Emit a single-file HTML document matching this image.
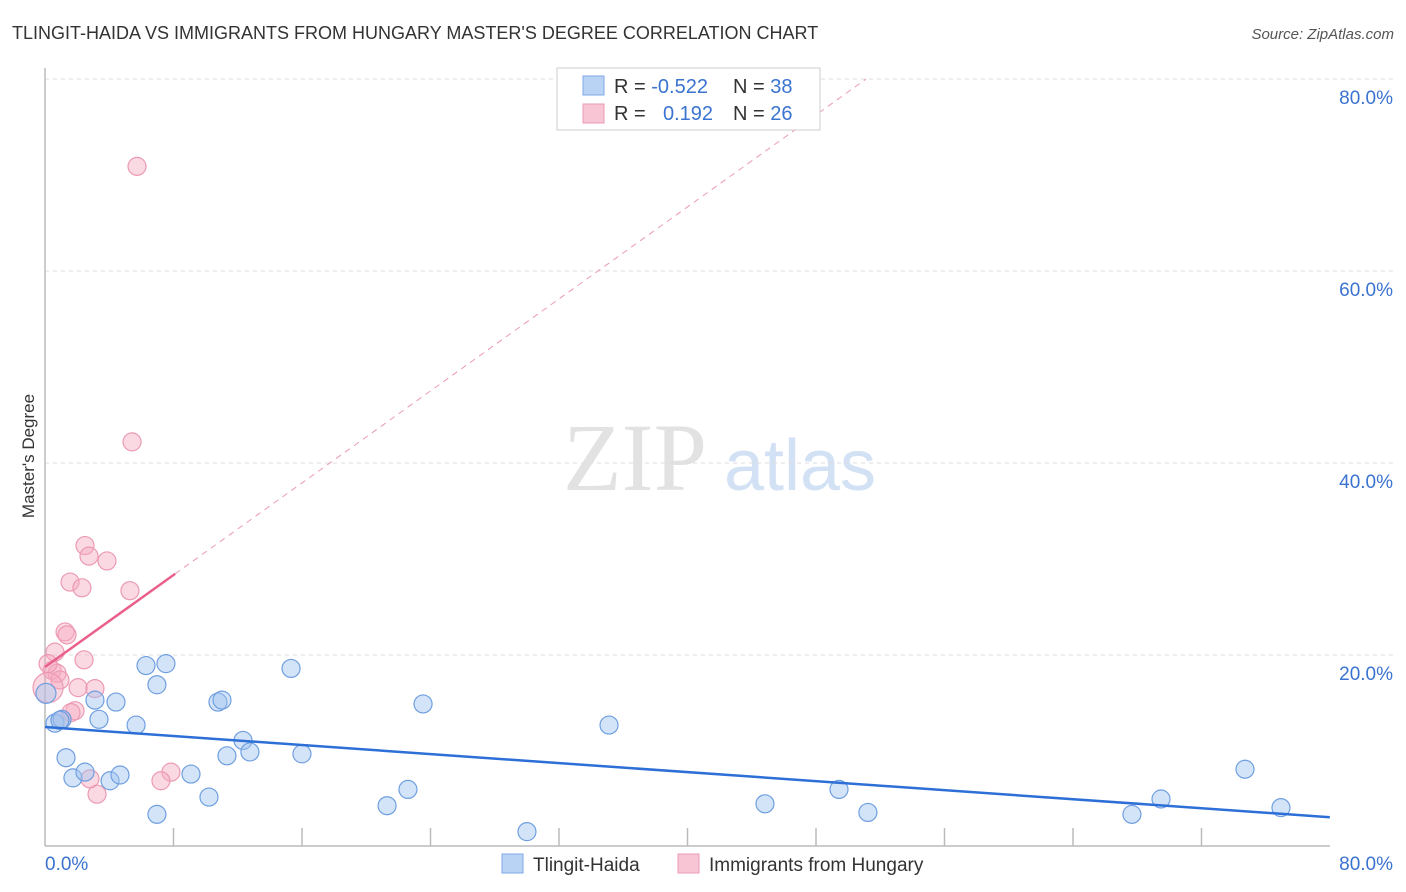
<!DOCTYPE html>
<html><head><meta charset="utf-8"><style>
body{margin:0;background:#fff;font-family:"Liberation Sans",sans-serif;}
svg{display:block}
</style></head><body>
<svg id="c" width="1406" height="892" xmlns="http://www.w3.org/2000/svg">
<text x="12" y="39" font-size="18" fill="#333">TLINGIT-HAIDA VS IMMIGRANTS FROM HUNGARY MASTER'S DEGREE CORRELATION CHART</text>
<text x="1394" y="39" font-size="15" fill="#555" font-style="italic" text-anchor="end">Source: ZipAtlas.com</text>
<text x="34" y="456" font-size="17" fill="#333" text-anchor="middle" transform="rotate(-90 34 456)">Master's Degree</text>
<g><text x="635" y="490" font-size="96" fill="#e2e2e2" text-anchor="middle" font-family="Liberation Serif,serif">ZIP</text><text x="800" y="490" font-size="72" fill="#d3e1f5" text-anchor="middle">atlas</text></g>
<g id="grid"></g><g id="marks"></g>
<g>
<rect x="557" y="68" width="263" height="62" fill="#fff" stroke="#ccc"/>
<rect x="583" y="76" width="21" height="19" fill="#b9d3f5" stroke="#7ea8e6"/>
<rect x="583" y="104" width="21" height="19" fill="#f8c5d4" stroke="#eb9ab3"/>
<text x="614" y="93" font-size="20" fill="#333">R = <tspan fill="#3b73d0">-0.522</tspan><tspan x="733">N = </tspan><tspan fill="#3b73d0">38</tspan></text>
<text x="614" y="120" font-size="20" fill="#333">R = <tspan x="663" fill="#3b73d0">0.192</tspan><tspan x="733">N = </tspan><tspan fill="#3b73d0">26</tspan></text>
</g>
<g>
<rect x="502" y="854" width="21" height="19" fill="#b9d3f5" stroke="#7ea8e6"/>
<text x="533" y="871" font-size="19" fill="#333">Tlingit-Haida</text>
<rect x="678" y="854" width="21" height="19" fill="#f8c5d4" stroke="#eb9ab3"/>
<text x="709" y="871" font-size="19" fill="#333">Immigrants from Hungary</text>
</g>
</svg>
<script>
const yTicks=[20,40,60,80];
const xTickLabels=["0.0%","80.0%"];
const blueX=[0.06,0.62,1.06,1.31,1.74,2.49,3.11,3.36,4.05,4.42,4.67,5.67,6.29,6.97,6.97,7.53,9.09,10.21,10.77,11.02,11.33,12.33,12.76,15.32,16.0,21.3,22.6,23.54,30.01,35.12,44.83,49.44,51.24,67.68,69.49,74.72,76.96,0.93];
const blueY=[16.0,12.9,13.3,9.3,7.2,7.8,15.3,13.3,6.9,15.1,7.5,12.7,18.9,3.4,16.9,19.1,7.6,5.2,15.1,15.3,9.5,11.1,9.9,18.6,9.7,4.3,6.0,14.9,1.6,12.7,4.5,6.0,3.6,3.4,5.0,8.1,4.1,13.2];
const pinkX=[5.73,5.42,2.49,2.74,3.86,1.56,2.3,5.29,1.25,1.37,0.62,2.43,0.44,0.75,0.93,0.19,2.06,3.11,1.87,1.62,2.8,7.84,7.22,3.24,0.19,1.06];
const pinkY=[70.9,42.2,31.4,30.3,29.8,27.6,27.0,26.7,22.4,22.1,20.3,19.5,18.4,18.1,17.4,16.6,16.6,16.5,14.2,14.0,7.1,7.8,6.9,5.5,19.1,13.3];
const blueTrend=[12.5,3.1];      // y at x=0 and x=80
const pinkTrend=[18.75,1.198]; // intercept, slope
const X=v=>45+v*16.06, Y=v=>847-v*9.6;
const NS="http://www.w3.org/2000/svg";
const g=document.getElementById('grid'), m=document.getElementById('marks');
function mk(tag,attrs,parent){const e=document.createElementNS(NS,tag);for(const k in attrs)e.setAttribute(k,attrs[k]);parent.appendChild(e);return e;}
yTicks.forEach(t=>{
 const l=mk('line',{x1:45,x2:1395,y1:Y(t),y2:Y(t),stroke:'#ddd','stroke-dasharray':'4,4'},g);
 
 
 const tx=mk('text',{x:1393,y:Y(t)+25,'font-size':19,fill:'#3b73d0','text-anchor':'end'},g);tx.textContent=t.toFixed(1)+'%';
 
 
});
mk('line',{x1:45,x2:45,y1:68,y2:846,stroke:'#bbb','stroke-width':1.5},g);
mk('line',{x1:45,x2:1330,y1:846,y2:846,stroke:'#bbb','stroke-width':1.5},g);
for(let i=1;i<10;i++){mk('line',{x1:45+i*128.5,x2:45+i*128.5,y1:828,y2:846,stroke:'#bbb','stroke-width':1.5},g);}
const xl0=mk('text',{x:45,y:870,'font-size':19,fill:'#3b73d0'},g);xl0.textContent=xTickLabels[0];


const xl1=mk('text',{x:1393,y:870,'font-size':19,fill:'#3b73d0','text-anchor':'end'},g);xl1.textContent=xTickLabels[1];


pinkX.forEach((v,i)=>{const c=mk('circle',{cx:X(v),cy:Y(pinkY[i]),r:(i==15?15:9),fill:'rgba(246,170,192,0.45)',stroke:'#eb9ab3','stroke-width':1.2},m);
 
 });
blueX.forEach((v,i)=>{const c=mk('circle',{cx:X(v),cy:Y(blueY[i]),r:(i==0?10:9),fill:'rgba(160,196,240,0.45)',stroke:'#6f9fe0','stroke-width':1.2},m);
 
 });
const bl=mk('line',{x1:X(0),y1:Y(blueTrend[0]),x2:X(80),y2:Y(blueTrend[1]),stroke:'#2d6fd6','stroke-width':2.5},m);


const pEnd=(80-pinkTrend[0])/pinkTrend[1];
const pd=mk('line',{x1:X(8.1),y1:Y(pinkTrend[0]+pinkTrend[1]*8.1),x2:X(pEnd),y2:Y(80),stroke:'#eb9ab3','stroke-width':1,'stroke-dasharray':'6,5'},m);


const pl=mk('line',{x1:X(0),y1:Y(pinkTrend[0]),x2:X(8.1),y2:Y(pinkTrend[0]+pinkTrend[1]*8.1),stroke:'#e9608a','stroke-width':2.5},m);


</script>
</body></html>
